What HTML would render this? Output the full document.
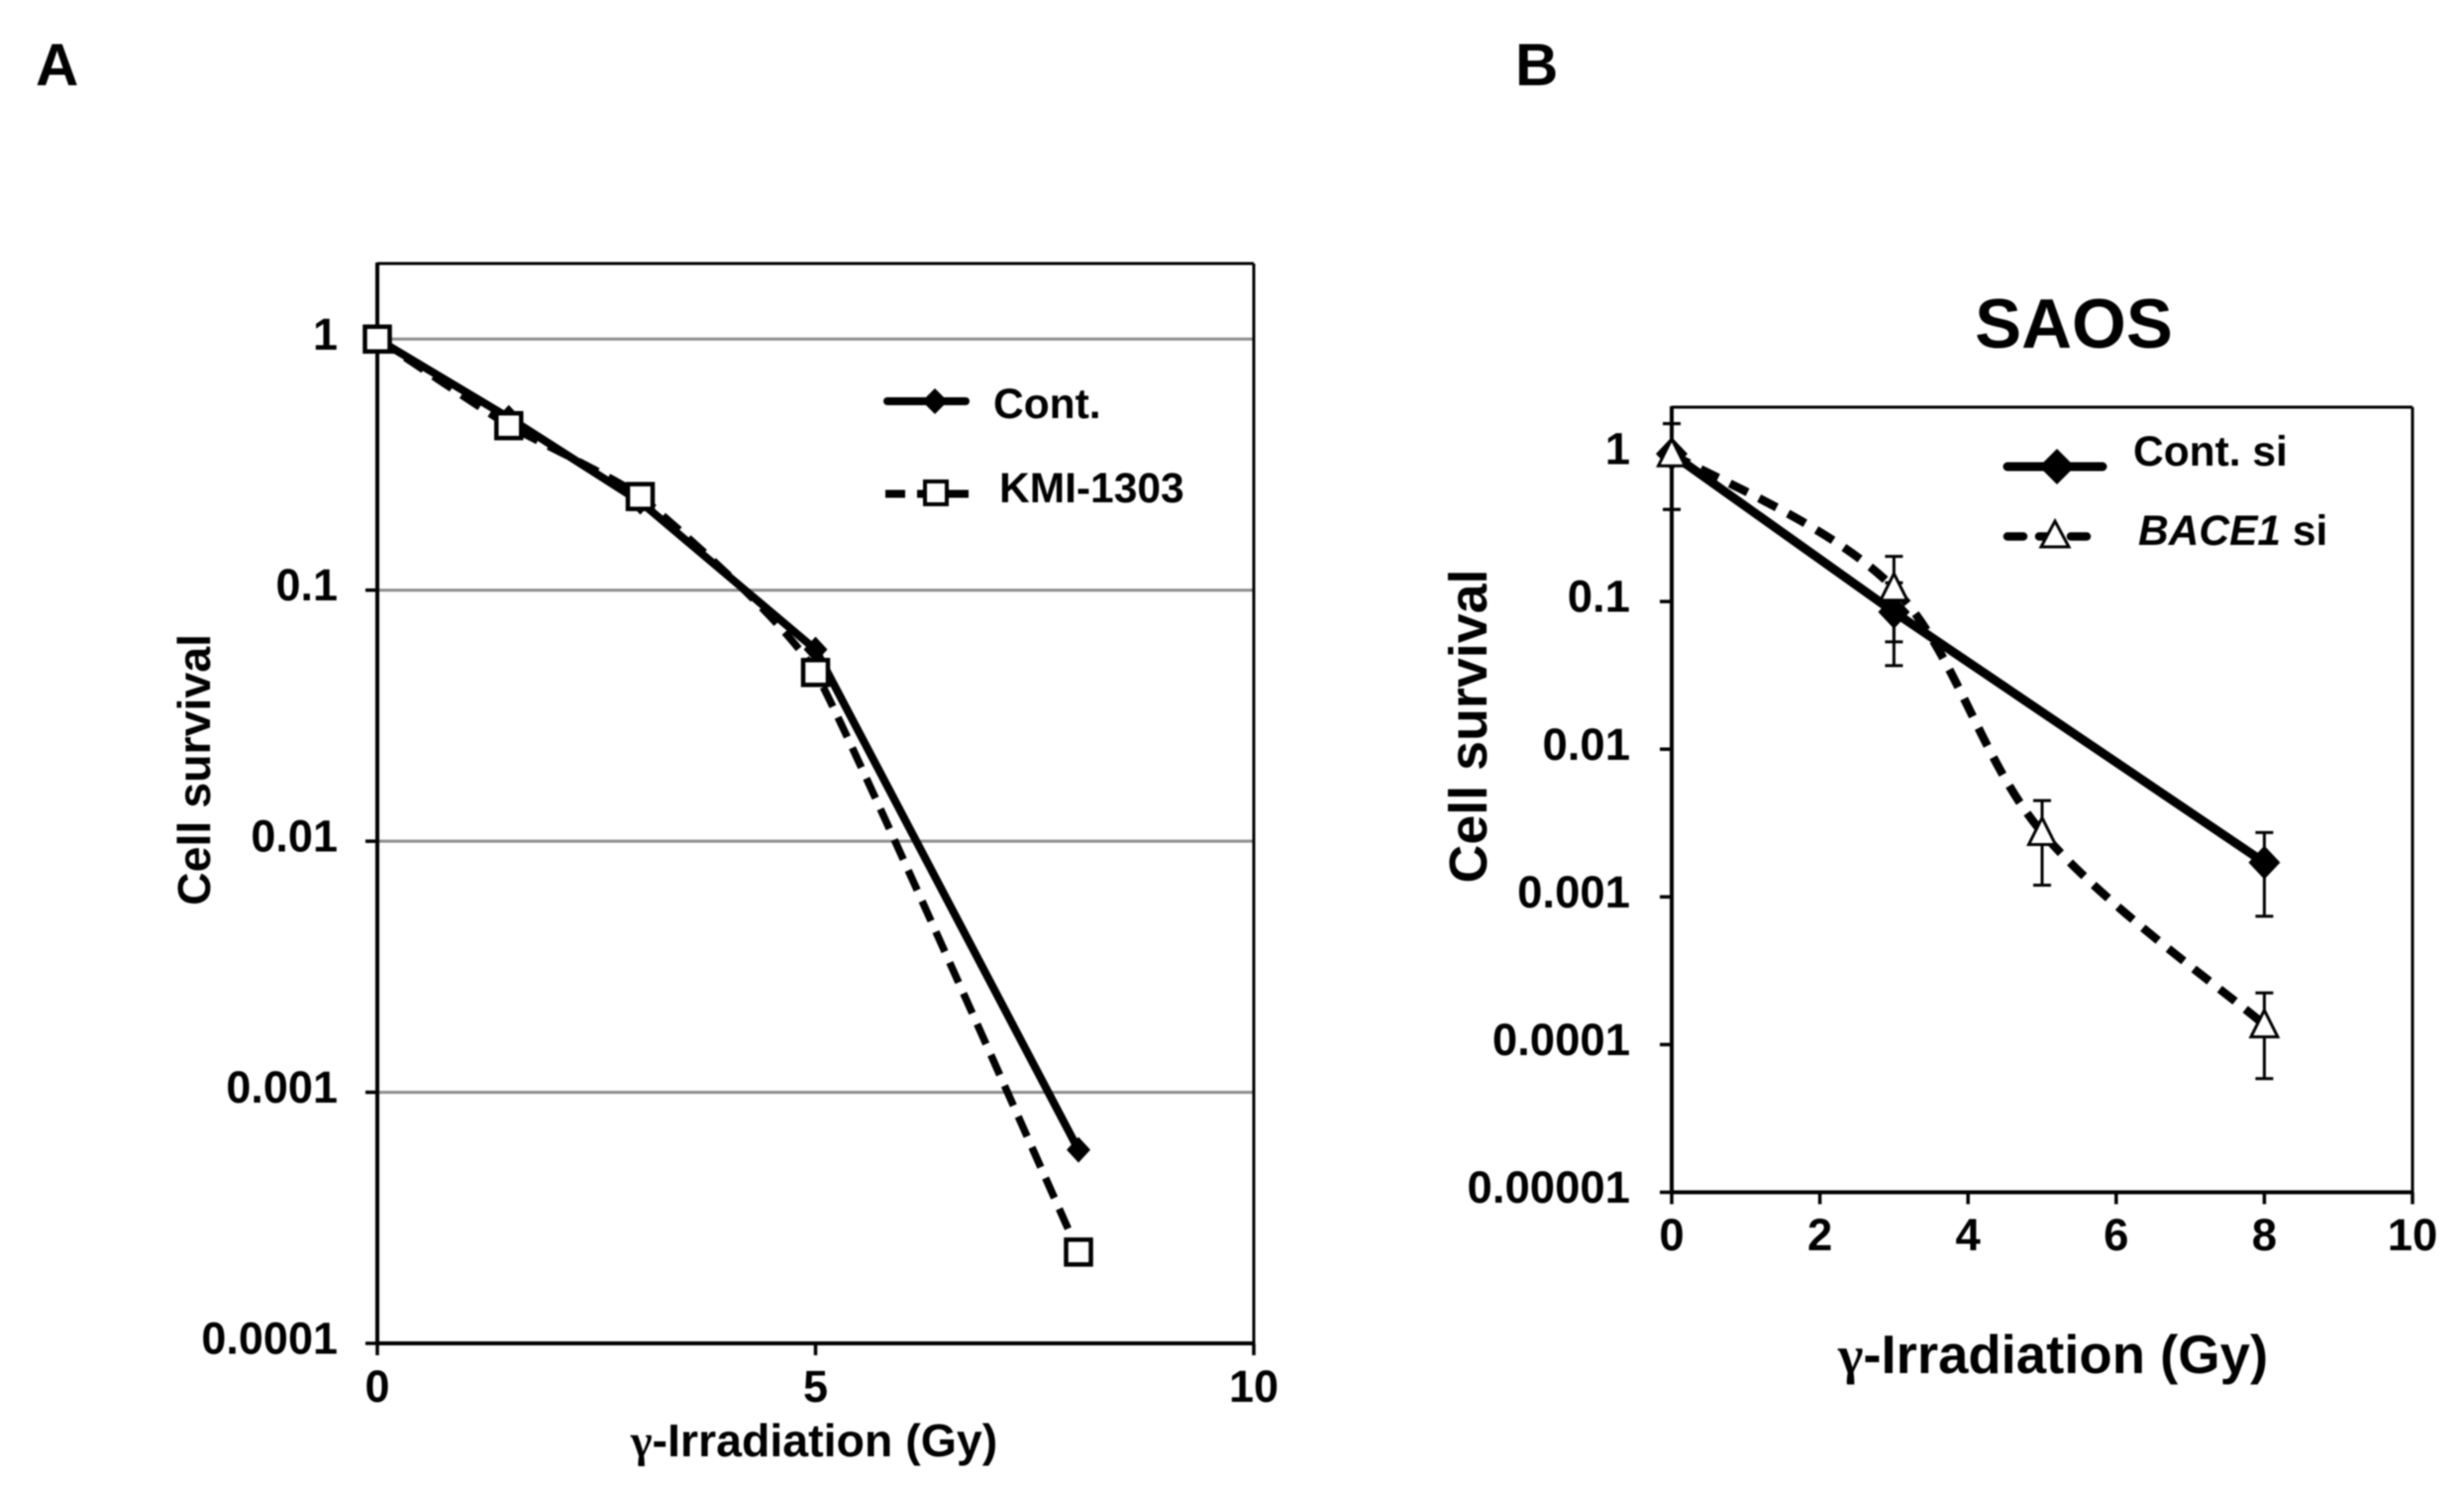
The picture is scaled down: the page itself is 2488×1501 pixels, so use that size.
<!DOCTYPE html>
<html lang="en">
<head>
<meta charset="utf-8">
<title>Cell survival after γ-irradiation</title>
<style>
html,body{margin:0;padding:0;background:#fff;width:2488px;height:1501px;overflow:hidden}
svg{display:block;filter:blur(0.7px)}
text{font-family:"Liberation Sans",Arial,sans-serif;font-weight:bold;fill:#000}
.greek{font-family:"Liberation Serif",serif}
</style>
</head>
<body>
<svg id="figure" xmlns="http://www.w3.org/2000/svg" width="2488" height="1501" viewBox="0 0 2488 1501">
  <rect x="0" y="0" width="2488" height="1501" fill="#fff"/>
  <text x="36" y="86" font-size="60">A</text>
  <text x="1530" y="86" font-size="60">B</text>
  <text x="2094" y="351" font-size="70.5" text-anchor="middle">SAOS</text>

  <g id="panelA"></g>
  <g id="panelB"></g>

  <text transform="translate(212,777) rotate(-90)" font-size="46.5" text-anchor="middle">Cell survival</text>
  <text x="822" y="1470" font-size="46.5" text-anchor="middle"><tspan class="greek">γ</tspan>-Irradiation (Gy)</text>
  <text transform="translate(1501,733) rotate(-90)" font-size="53.8" text-anchor="middle">Cell survival</text>
  <text x="2073" y="1386" font-size="54.5" text-anchor="middle"><tspan class="greek">γ</tspan>-Irradiation (Gy)</text>

  <g>
    <line x1="896" y1="405" x2="975" y2="405" stroke="#000" stroke-width="8" stroke-linecap="round"/>
    <polygon points="944,392 957,405 944,418 931,405" fill="#000"/>
    <text x="1003" y="422" font-size="42.5">Cont.</text>
    <line x1="894" y1="498.5" x2="978" y2="498.5" stroke="#000" stroke-width="8" stroke-dasharray="20 12" stroke-linecap="butt"/>
    <rect x="934" y="486" width="22" height="23" fill="#fff" stroke="#000" stroke-width="4"/>
    <text x="1009" y="507" font-size="42.5">KMI-1303</text>
  </g>
  <g>
    <line x1="2027" y1="471" x2="2123" y2="471" stroke="#000" stroke-width="9" stroke-linecap="round"/>
    <polygon points="2077,453 2095,471 2077,489 2059,471" fill="#000"/>
    <text x="2154" y="470" font-size="42.5">Cont. si</text>
    <line x1="2027" y1="541.5" x2="2116" y2="541.5" stroke="#000" stroke-width="8.5" stroke-dasharray="16 16" stroke-linecap="round"/>
    <polygon points="2075,526 2089,552 2061,552" fill="#fff" stroke="#000" stroke-width="3"/>
    <text x="2159" y="550" font-size="42.5"><tspan font-style="italic">BACE1</tspan> si</text>
  </g>
</svg>
<script>
const SVGNS = 'http://www.w3.org/2000/svg';

/* ---- Panel A data ---- */
const aXTicks = [0, 5, 10];
const aXTickLabels = ['0', '5', '10'];
const aYTicks = [1, 0.1, 0.01, 0.001, 0.0001];
const aYTickLabels = ['1', '0.1', '0.01', '0.001', '0.0001'];
const aDoses = [0, 1.5, 3, 5, 8];
const aContValues = [1, 0.486, 0.225, 0.058, 0.00059];
const aKmiValues = [1, 0.452, 0.236, 0.047, 0.000231];

/* ---- Panel B data ---- */
const bXTicks = [0, 2, 4, 6, 8, 10];
const bXTickLabels = ['0', '2', '4', '6', '8', '10'];
const bYTicks = [1, 0.1, 0.01, 0.001, 0.0001, 0.00001];
const bYTickLabels = ['1', '0.1', '0.01', '0.001', '0.0001', '0.00001'];
const bContDoses = [0, 3, 8];
const bContValues = [1, 0.085, 0.00171];
const bContUpper = [1.6, 0.134, 0.00273];
const bContLower = [0.42, 0.0368, 0.00074];
const bBaceDoses = [0, 3, 5, 8];
const bBaceValues = [1, 0.123, 0.00273, 0.000136];
const bBaceUpper = [1.6, 0.202, 0.00449, 0.000224];
const bBaceLower = [0.42, 0.0533, 0.0012, 0.0000589];

function make(tag, parent) {
  const el = document.createElementNS(SVGNS, tag);
  parent.appendChild(el);
  return el;
}
function setAttrs(el, o) { for (const k in o) el.setAttribute(k, o[k]); return el; }

function makeScales(b) {
  return {
    x: v => b.left + (v - b.xMin) / (b.xMax - b.xMin) * (b.right - b.left),
    y: v => b.bottom - (Math.log10(v) - Math.log10(b.yMin)) / (Math.log10(b.yMax) - Math.log10(b.yMin)) * (b.bottom - b.top)
  };
}

function drawFrame(g, b, s, xt, xl, yt, yl, grid) {
  if (grid) {
    yt.forEach(function (v) {
      const ln = make('line', g);
      
      
      setAttrs(ln, { x1: b.left, x2: b.right, y1: s.y(v), y2: s.y(v), stroke: '#8c8c8c', 'stroke-width': 3 });
    });
  }
  const top = make('line', g);
  
  
  setAttrs(top, { x1: b.left, x2: b.right, y1: b.top, y2: b.top, stroke: '#000', 'stroke-width': 3 });
  const right = make('line', g);
  
  
  setAttrs(right, { x1: b.right, x2: b.right, y1: b.top, y2: b.bottom, stroke: '#000', 'stroke-width': 3 });
  const yAxis = make('line', g);
  
  
  setAttrs(yAxis, { x1: b.left, x2: b.left, y1: b.top - 1, y2: b.bottom, stroke: '#000', 'stroke-width': 4 });
  const xAxis = make('line', g);
  
  
  setAttrs(xAxis, { x1: b.left, x2: b.right, y1: b.bottom, y2: b.bottom, stroke: '#000', 'stroke-width': 4 });

  xt.forEach(function (v, i) {
    const t = make('line', g);
    
    
    setAttrs(t, { x1: s.x(v), x2: s.x(v), y1: b.bottom, y2: b.bottom + 12, stroke: '#000', 'stroke-width': 3.5 });
    const lab = make('text', g);
    
    
    setAttrs(lab, { x: s.x(v), y: b.xLabelY, 'font-size': b.tickFont, 'text-anchor': 'middle' });
    lab.textContent = xl[i];
  });
  yt.forEach(function (v, i) {
    const t = make('line', g);
    
    
    setAttrs(t, { x1: b.left - 12, x2: b.left, y1: s.y(v), y2: s.y(v), stroke: '#000', 'stroke-width': 3.5 });
    const lab = make('text', g);
    
    
    setAttrs(lab, { x: b.yLabelX, y: s.y(v) + 10.5, 'font-size': b.tickFont, 'text-anchor': 'end' });
    lab.textContent = yl[i];
  });
}

function straightPath(pts) {
  return pts.map((p, i) => (i ? 'L' : 'M') + p[0].toFixed(1) + ' ' + p[1].toFixed(1)).join(' ');
}
function smoothPath(pts, k) {
  let d = 'M' + pts[0][0].toFixed(1) + ' ' + pts[0][1].toFixed(1);
  for (let i = 0; i < pts.length - 1; i++) {
    const p0 = pts[Math.max(0, i - 1)], p1 = pts[i], p2 = pts[i + 1], p3 = pts[Math.min(pts.length - 1, i + 2)];
    const c1 = [p1[0] + (p2[0] - p0[0]) * k, p1[1] + (p2[1] - p0[1]) * k];
    const c2 = [p2[0] - (p3[0] - p1[0]) * k, p2[1] - (p3[1] - p1[1]) * k];
    d += ' C' + c1[0].toFixed(1) + ' ' + c1[1].toFixed(1) + ' ' + c2[0].toFixed(1) + ' ' + c2[1].toFixed(1) + ' ' + p2[0].toFixed(1) + ' ' + p2[1].toFixed(1);
  }
  return d;
}

function diamondPoints(cx, cy, rx, ry) {
  return [cx, cy - ry, cx + rx, cy, cx, cy + ry, cx - rx, cy].join(',');
}
function trianglePoints(cx, cy, w, h) {
  return [cx, cy - h * 0.55, cx + w / 2, cy + h * 0.45, cx - w / 2, cy + h * 0.45].join(',');
}

function drawErrorBars(g, s, xs, uppers, lowers) {
  xs.forEach(function (v, i) {
    const px = s.x(v), yu = s.y(uppers[i]), yl = s.y(lowers[i]);
    const stem = make('line', g);
    
    
    setAttrs(stem, { x1: px, x2: px, y1: yu, y2: yl, stroke: '#000', 'stroke-width': 3 });
    const capU = make('line', g);
    
    
    setAttrs(capU, { x1: px - 9, x2: px + 9, y1: yu, y2: yu, stroke: '#000', 'stroke-width': 3 });
    const capL = make('line', g);
    
    
    setAttrs(capL, { x1: px - 9, x2: px + 9, y1: yl, y2: yl, stroke: '#000', 'stroke-width': 3 });
  });
}

/* ---- Panel A ---- */
const boundsA = { left: 381, right: 1266, top: 266, bottom: 1356, xMin: 0, xMax: 10, yMin: 0.0001, yMax: 2, tickFont: 45, xLabelY: 1415, yLabelX: 341 };
const scaleA = makeScales(boundsA);
const gA = document.getElementById('panelA');
drawFrame(gA, boundsA, scaleA, aXTicks, aXTickLabels, aYTicks, aYTickLabels, true);

const aContPts = aDoses.map((d, i) => [scaleA.x(d), scaleA.y(aContValues[i])]);
const aKmiPts = aDoses.map((d, i) => [scaleA.x(d), scaleA.y(aKmiValues[i])]);

const contLineA = make('path', gA);


setAttrs(contLineA, { d: straightPath(aContPts), fill: 'none', stroke: '#000', 'stroke-width': 8 });
aContPts.forEach(function (p) {
  const m = make('polygon', gA);
  
  
  setAttrs(m, { points: diamondPoints(p[0], p[1], 12, 13), fill: '#000' });
});
const kmiLineA = make('path', gA);


setAttrs(kmiLineA, { d: smoothPath(aKmiPts, 0.07), fill: 'none', stroke: '#000', 'stroke-width': 7.5, 'stroke-dasharray': '22 12' });
aKmiPts.forEach(function (p) {
  const m = make('rect', gA);
  
  
  setAttrs(m, { x: p[0] - 12.5, y: p[1] - 12.5, width: 25, height: 25, fill: '#fff', stroke: '#000', 'stroke-width': 4.5 });
});

/* ---- Panel B ---- */
const boundsB = { left: 1688, right: 2436, top: 411, bottom: 1203.5, xMin: 0, xMax: 10, yMin: 0.00001, yMax: 2.07, tickFont: 45.5, xLabelY: 1262, yLabelX: 1646 };
const scaleB = makeScales(boundsB);
const gB = document.getElementById('panelB');
drawFrame(gB, boundsB, scaleB, bXTicks, bXTickLabels, bYTicks, bYTickLabels, false);

drawErrorBars(gB, scaleB, bContDoses, bContUpper, bContLower);
drawErrorBars(gB, scaleB, bBaceDoses, bBaceUpper, bBaceLower);

const bContPts = bContDoses.map((d, i) => [scaleB.x(d), scaleB.y(bContValues[i])]);
const bBacePts = bBaceDoses.map((d, i) => [scaleB.x(d), scaleB.y(bBaceValues[i])]);

const contLineB = make('path', gB);


setAttrs(contLineB, { d: straightPath(bContPts), fill: 'none', stroke: '#000', 'stroke-width': 9 });
bContPts.forEach(function (p) {
  const m = make('polygon', gB);
  
  
  setAttrs(m, { points: diamondPoints(p[0], p[1], 16, 17), fill: '#000' });
});
const baceLineB = make('path', gB);


setAttrs(baceLineB, { d: smoothPath(bBacePts, 1 / 6), fill: 'none', stroke: '#000', 'stroke-width': 8.5, 'stroke-dasharray': '20 13' });
bBacePts.forEach(function (p) {
  const m = make('polygon', gB);
  
  
  setAttrs(m, { points: trianglePoints(p[0], p[1], 27, 27), fill: '#fff', stroke: '#000', 'stroke-width': 3 });
});
</script>
</body>
</html>
